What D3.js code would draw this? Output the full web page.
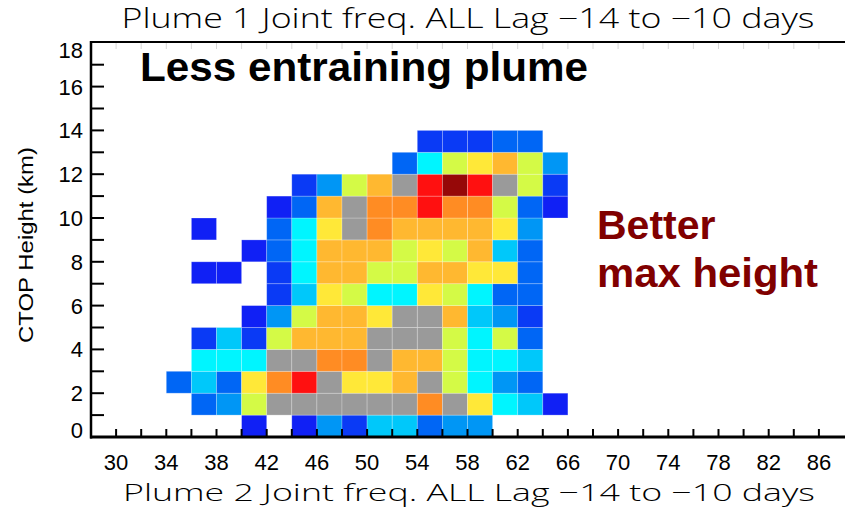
<!DOCTYPE html>
<html>
<head>
<meta charset="utf-8">
<script src="https://cdn.jsdelivr.net/npm/d3@7"></script>
<style>
  body { margin: 0; background: #fff; }
  svg { display: block; }
</style>
</head>
<body>
<svg id="chart" width="845" height="508"></svg>
<script>
// column left edges (Plume 2 bins) and row bottoms (CTOP height, km)
const xBins = [34, 36, 38, 40, 42, 44, 46, 48, 50, 52, 54, 56, 58, 60, 62, 64];
const yBins = [0, 1, 2, 3, 4, 5, 6, 7, 8, 9, 10, 11, 12, 13];

// frequency level per cell, one array per row (row 0 first), 0 = empty
const freqLevels = [
  [0, 0, 0, 1, 0, 1, 4, 2, 5, 5, 3, 4, 4, 0, 0, 0],
  [0, 3, 4, 7, 8, 8, 8, 8, 8, 8, 11, 8, 9, 6, 5, 1],
  [3, 5, 3, 9, 11, 12, 8, 9, 9, 10, 8, 7, 6, 4, 3, 0],
  [0, 6, 6, 6, 8, 8, 11, 11, 8, 10, 10, 7, 6, 6, 5, 0],
  [0, 2, 5, 2, 7, 10, 10, 10, 8, 8, 8, 7, 6, 7, 3, 0],
  [0, 0, 0, 1, 4, 7, 10, 10, 9, 8, 8, 10, 5, 4, 2, 0],
  [0, 0, 0, 0, 2, 5, 9, 7, 6, 6, 9, 7, 6, 3, 3, 0],
  [0, 1, 1, 0, 2, 6, 10, 10, 7, 7, 10, 10, 9, 9, 3, 0],
  [0, 0, 0, 1, 3, 6, 10, 10, 10, 7, 9, 7, 10, 5, 3, 0],
  [0, 1, 0, 0, 3, 6, 9, 8, 11, 10, 10, 10, 10, 9, 4, 0],
  [0, 0, 0, 0, 1, 3, 10, 8, 11, 11, 12, 11, 11, 7, 3, 1],
  [0, 0, 0, 0, 0, 2, 4, 7, 10, 8, 12, 13, 12, 8, 7, 2],
  [0, 0, 0, 0, 0, 0, 0, 0, 0, 3, 6, 7, 9, 10, 7, 4],
  [0, 0, 0, 0, 0, 0, 0, 0, 0, 0, 2, 2, 2, 3, 3, 0]
];

const levels = [1, 2, 3, 4, 5, 6, 7, 8, 9, 10, 11, 12, 13];
const levelColors = ["#1020f5", "#0a3af5", "#0066f5", "#0096f5", "#00c8fa", "#00f5ff",
  "#d4fa46", "#9a9a9a", "#ffe838", "#ffb830", "#ff8c23", "#ff1010", "#960808"];

const xTicks = [30, 34, 38, 42, 46, 50, 54, 58, 62, 66, 70, 74, 78, 82, 86];
const yTicks = [0, 2, 4, 6, 8, 10, 12, 14, 16, 18];

const svg = d3.select("#chart");
const plotL = 91, plotR = 844, plotT = 42, plotB = 437;

const x = d3.scaleLinear().domain([28, 88]).range([plotL, plotR]);
const y = d3.scaleLinear().domain([0, 18]).range([plotB, plotT + 0.8]);
const color = d3.scaleOrdinal().domain(levels).range(levelColors);

// cells
const cells = [];
freqLevels.forEach((row, j) => {
  row.forEach((lv, i) => {
    if (lv > 0) cells.push({ x0: xBins[i], y0: yBins[j], lv });
  });
});

svg.append("g")
  .selectAll("rect")
  .data(cells)
  .join("rect")
  .attr("x", d => x(d.x0))
  .attr("y", d => y(d.y0 + 1))
  .attr("width", d => x(d.x0 + 2) - x(d.x0))
  .attr("height", d => y(d.y0) - y(d.y0 + 1))
  .attr("fill", d => color(d.lv))
  .attr("stroke", "#ffffff")
  .attr("stroke-opacity", 0.3)
  .attr("stroke-width", 0.8);

// faint ticks under the top axis
svg.append("g")
  .selectAll("line")
  .data(d3.range(30, 88, 2))
  .join("line")
  .attr("x1", d => x(d)).attr("x2", d => x(d))
  .attr("y1", plotT).attr("y2", plotT + 7)
  .attr("stroke", "#d8d8d8")
  .attr("stroke-width", 1);

// bottom axis ticks (every 2)
svg.append("g")
  .selectAll("line")
  .data(d3.range(30, 88, 2))
  .join("line")
  .attr("x1", d => x(d)).attr("x2", d => x(d))
  .attr("y1", plotB).attr("y2", plotB - 8)
  .attr("stroke", "#000")
  .attr("stroke-width", 2);

// left axis ticks (every 1)
svg.append("g")
  .selectAll("line")
  .data(d3.range(1, 18))
  .join("line")
  .attr("x1", plotL).attr("x2", plotL + 13)
  .attr("y1", d => y(d)).attr("y2", d => y(d))
  .attr("stroke", "#000")
  .attr("stroke-width", 2);

// frame
svg.append("line").attr("x1", plotL).attr("x2", plotR + 2).attr("y1", plotT).attr("y2", plotT)
  .attr("stroke", "#000").attr("stroke-width", 2);
svg.append("line").attr("x1", plotL).attr("x2", plotL).attr("y1", plotT - 1).attr("y2", plotB + 1.5)
  .attr("stroke", "#000").attr("stroke-width", 2.5);
svg.append("line").attr("x1", plotL - 1).attr("x2", plotR + 2).attr("y1", plotB).attr("y2", plotB)
  .attr("stroke", "#000").attr("stroke-width", 3);

const numFont = "'Liberation Sans', Arial, sans-serif";

// y tick labels
svg.append("g")
  .selectAll("text")
  .data(yTicks)
  .join("text")
  .attr("x", 83)
  .attr("y", d => Math.max(50, Math.min(430, y(d))))
  .attr("dy", "0.36em")
  .attr("text-anchor", "end")
  .attr("font-family", numFont)
  .attr("font-size", 22)
  .attr("fill", "#000")
  .text(d => d);

// x tick labels
svg.append("g")
  .selectAll("text")
  .data(xTicks)
  .join("text")
  .attr("x", d => x(d))
  .attr("y", 470)
  .attr("text-anchor", "middle")
  .attr("font-family", numFont)
  .attr("font-size", 22)
  .attr("fill", "#000")
  .text(d => d);

// titles
const thinFont = "'Open Sans', 'Liberation Sans', sans-serif";
svg.append("text")
  .attr("x", 468).attr("y", 28)
  .attr("text-anchor", "middle")
  .attr("font-family", thinFont).attr("font-weight", 300)
  .attr("font-size", 27)
  .attr("textLength", 693).attr("lengthAdjust", "spacingAndGlyphs")
  .text("Plume 1 Joint freq. ALL Lag \u221214 to \u221210 days");

svg.append("text")
  .attr("x", 469).attr("y", 501)
  .attr("text-anchor", "middle")
  .attr("font-family", thinFont).attr("font-weight", 300)
  .attr("font-size", 24)
  .attr("textLength", 692).attr("lengthAdjust", "spacingAndGlyphs")
  .text("Plume 2 Joint freq. ALL Lag \u221214 to \u221210 days");

svg.append("text")
  .attr("transform", "translate(33,245) rotate(-90)")
  .attr("text-anchor", "middle")
  .attr("font-family", numFont)
  .attr("font-size", 21)
  .attr("textLength", 196).attr("lengthAdjust", "spacingAndGlyphs")
  .text("CTOP Height (km)");

// annotations
const boldFont = "'Liberation Sans', Arial, sans-serif";
svg.append("text")
  .attr("x", 140).attr("y", 81)
  .attr("font-family", boldFont).attr("font-weight", "bold")
  .attr("font-size", 40)
  .attr("textLength", 448).attr("lengthAdjust", "spacingAndGlyphs")
  .text("Less entraining plume");

svg.append("text")
  .attr("x", 597).attr("y", 239)
  .attr("font-family", boldFont).attr("font-weight", "bold")
  .attr("font-size", 41)
  .attr("fill", "#800000")
  .text("Better");

svg.append("text")
  .attr("x", 597).attr("y", 287)
  .attr("font-family", boldFont).attr("font-weight", "bold")
  .attr("font-size", 41)
  .attr("textLength", 221).attr("lengthAdjust", "spacingAndGlyphs")
  .attr("fill", "#800000")
  .text("max height");
</script>
</body>
</html>
